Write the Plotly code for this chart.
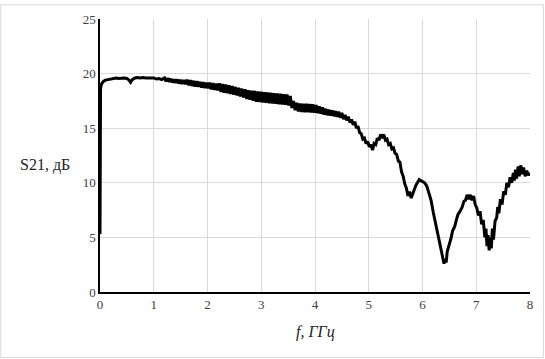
import plotly.graph_objects as go

# Segment A: rise and flat top (0 - 1.15 GHz)
xa = [0, 0.002, 0.004, 0.01, 0.02, 0.04, 0.07, 0.1, 0.15, 0.2, 0.25, 0.3, 0.35, 0.4, 0.45, 0.5,
      0.54, 0.57, 0.6, 0.65, 0.7, 0.75, 0.8, 0.85, 0.9, 0.95, 1.0, 1.05, 1.1, 1.15]
ya = [5.3, 12.0, 18.4, 18.6, 18.9, 19.15, 19.3, 19.4, 19.45, 19.5, 19.55, 19.6, 19.55, 19.6, 19.6, 19.55,
      19.4, 19.2, 19.45, 19.6, 19.65, 19.6, 19.65, 19.6, 19.6, 19.55, 19.6, 19.5, 19.55, 19.45]

# Segment B: rippled slope (1.2 - 4.83 GHz)
xb = [1.20, 1.23, 1.26, 1.29, 1.32, 1.35, 1.38, 1.41, 1.44, 1.47, 1.50, 1.53, 1.56, 1.59,
      1.62, 1.65, 1.68, 1.71, 1.74, 1.77, 1.80, 1.83, 1.86, 1.89, 1.92, 1.95, 1.98, 2.01,
      2.04, 2.07, 2.10, 2.13, 2.16, 2.19, 2.22, 2.25, 2.28, 2.31, 2.34, 2.37, 2.40, 2.43,
      2.46, 2.49, 2.52, 2.55, 2.58, 2.61, 2.64, 2.67, 2.70, 2.73, 2.76, 2.79, 2.82, 2.85,
      2.88, 2.91, 2.94, 2.97, 3.00, 3.03, 3.06, 3.09, 3.12, 3.15, 3.18, 3.21, 3.24, 3.27,
      3.30, 3.33, 3.36, 3.39, 3.42, 3.45, 3.48, 3.51, 3.54, 3.57, 3.60, 3.63, 3.66, 3.69,
      3.72, 3.75, 3.78, 3.81, 3.84, 3.87, 3.90, 3.93, 3.96, 3.99, 4.02, 4.05, 4.08, 4.11,
      4.14, 4.17, 4.20, 4.23, 4.26, 4.29, 4.32, 4.35, 4.38, 4.41, 4.44, 4.47, 4.50, 4.53,
      4.56, 4.59, 4.62, 4.65, 4.68, 4.71, 4.74, 4.77, 4.80, 4.83]
yb = [19.60, 19.29, 19.58, 19.25, 19.52, 19.19, 19.46, 19.15, 19.46, 19.09, 19.43, 19.06, 19.40, 19.02,
      19.44, 18.92, 19.39, 18.87, 19.34, 18.82, 19.30, 18.78, 19.25, 18.73, 19.21, 18.68, 19.16, 18.64,
      19.17, 18.55, 19.12, 18.50, 19.08, 18.45, 19.11, 18.32, 19.05, 18.26, 18.99, 18.20, 18.93, 18.14,
      18.86, 18.06, 18.78, 17.99, 18.71, 17.90, 18.62, 17.82, 18.57, 17.68, 18.48, 17.60, 18.44, 17.51,
      18.42, 17.43, 18.37, 17.39, 18.33, 17.35, 18.30, 17.32, 18.27, 17.29, 18.24, 17.26, 18.21, 17.23,
      18.18, 17.20, 18.15, 17.17, 18.12, 17.14, 18.08, 17.08, 17.95, 16.85, 17.48, 16.64, 17.33, 16.53,
      17.26, 16.49, 17.24, 16.47, 17.23, 16.46, 17.21, 16.44, 17.19, 16.42, 17.13, 16.38, 17.00, 16.32,
      16.90, 16.25, 16.78, 16.19, 16.69, 16.16, 16.63, 16.10, 16.57, 16.04, 16.51, 15.96, 16.40, 15.83,
      16.22, 15.71, 16.05, 15.53, 15.80, 15.30, 15.60, 15.00, 15.20, 14.60]

# Segment C: resonant dips (4.86 - 8 GHz)
xc = [4.86, 4.89, 4.92, 4.95, 4.98, 5.01, 5.04, 5.07, 5.10, 5.13, 5.16, 5.19, 5.22, 5.25, 5.28,
      5.31, 5.34, 5.37, 5.40, 5.43, 5.46, 5.49, 5.52, 5.55, 5.58, 5.61, 5.64, 5.67, 5.70, 5.73,
      5.76, 5.79, 5.82, 5.85, 5.88, 5.91, 5.94, 5.97, 6.00, 6.04, 6.08, 6.12, 6.16, 6.20, 6.24,
      6.28, 6.32, 6.35, 6.38, 6.40, 6.42, 6.44, 6.46, 6.50, 6.53, 6.56, 6.60, 6.63, 6.66, 6.70,
      6.74, 6.77, 6.80, 6.83, 6.86, 6.89, 6.92, 6.95, 6.98, 7.01, 7.04, 7.07, 7.10, 7.13, 7.16,
      7.18, 7.20, 7.22, 7.24, 7.26, 7.28, 7.30, 7.32, 7.35, 7.38, 7.40, 7.42, 7.45, 7.48, 7.51,
      7.54, 7.57, 7.60, 7.63, 7.66, 7.69, 7.71, 7.73, 7.75, 7.78, 7.80, 7.83, 7.85, 7.88, 7.91,
      7.94, 7.97, 8.00]
yc = [14.5, 14.0, 14.1, 13.6, 13.8, 13.3, 13.5, 13.0, 13.6, 13.5, 14.1, 13.9, 14.4, 14.2, 14.4,
      13.9, 14.0, 13.5, 13.6, 13.1, 13.2, 12.7, 12.6, 12.0, 11.9, 11.0, 10.6, 9.9, 9.5, 8.8,
      9.2, 8.6, 9.1, 9.4, 9.8, 10.1, 10.3, 10.2, 10.1, 10.0, 9.7, 9.1, 8.4, 7.3, 6.3,
      5.3, 4.3, 3.6, 3.0, 2.6, 3.0, 2.7, 3.7, 4.3, 4.9, 5.6, 6.0, 6.6, 7.1, 7.4,
      7.8, 8.3, 8.4, 8.9, 8.5, 8.9, 8.4, 8.8, 8.0, 7.7, 7.0, 7.4, 6.2, 6.6, 5.0,
      5.8, 4.2, 5.2, 3.8, 5.0, 4.0, 5.8, 4.8, 6.5, 6.8, 7.8, 7.2, 8.5, 8.0, 9.2,
      8.9, 10.0, 9.6, 10.5, 10.0, 10.9, 10.2, 11.2, 10.4, 11.5, 10.6, 11.6, 10.8, 11.4, 10.6,
      11.1, 10.7, 10.9]

x_ticks = [0, 1, 2, 3, 4, 5, 6, 7, 8]
y_ticks = [0, 5, 10, 15, 20, 25]

freq = xa + xb + xc
s21 = ya + yb + yc

FONT = "Liberation Serif"

fig = go.Figure()
fig.add_trace(go.Scatter(x=freq, y=s21, mode="lines",
                         line=dict(color="black", width=3), showlegend=False,
                         hoverinfo="skip"))

fig.update_layout(
    width=545, height=359,
    margin=dict(l=100, r=14, t=15, b=67),
    paper_bgcolor="white", plot_bgcolor="white",
    font=dict(family=FONT, size=13, color="#404040"),
    xaxis=dict(range=[0, 8], tickvals=x_ticks, ticktext=[str(v) for v in x_ticks],
               showgrid=True, gridcolor="#d9d9d9", gridwidth=1,
               showline=True, linecolor="black", linewidth=1.5,
               zeroline=False, ticks="", tickfont=dict(family=FONT, size=13, color="#404040")),
    yaxis=dict(range=[0, 25], tickvals=y_ticks, ticktext=[str(v) for v in y_ticks],
               showgrid=True, gridcolor="#d9d9d9", gridwidth=1,
               showline=True, linecolor="black", linewidth=1.5,
               zeroline=False, ticks="", ticklen=0,
               tickfont=dict(family=FONT, size=13, color="#404040")),
    annotations=[
        dict(text="S21, дБ", x=-0.128, y=0.466, xref="paper", yref="paper",
             showarrow=False, xanchor="center", yanchor="middle",
             font=dict(family=FONT, size=16, color="#222222")),
        dict(text="<i>f, ГГц</i>", x=0.5, y=-0.148, xref="paper", yref="paper",
             showarrow=False, xanchor="center", yanchor="middle",
             font=dict(family=FONT, size=16, color="#222222")),
    ],
    shapes=[dict(type="rect", xref="paper", yref="paper",
                 x0=-99.5 / 431, x1=1 + 13.5 / 431, y0=-66.5 / 277, y1=1 + 14.5 / 277,
                 line=dict(color="#d9d9d9", width=1), fillcolor="rgba(0,0,0,0)", layer="below")],
)

fig.write_html("out.html", config={"displayModeBar": False},
               post_script="document.body.style.margin='0';document.body.style.padding='0';")
